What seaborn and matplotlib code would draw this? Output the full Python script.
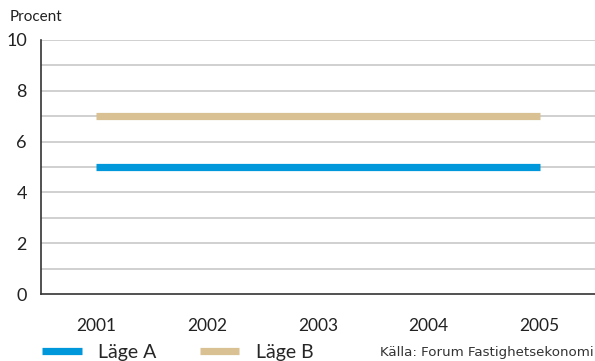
import matplotlib
matplotlib.use("Agg")
import matplotlib.pyplot as plt
import seaborn as sns
import pandas as pd

# Data
years = ["2001", "2002", "2003", "2004", "2005"]
lage_a = [5, 5, 5, 5, 5]
lage_b = [7, 7, 7, 7, 7]
series_names = ["Läge A", "Läge B"]
y_ticks = [0, 2, 4, 6, 8, 10]

df = pd.DataFrame({
    "year": years * 2,
    "value": lage_a + lage_b,
    "series": [series_names[0]] * len(years) + [series_names[1]] * len(years),
})
df["pos"] = df["year"].map({y: i for i, y in enumerate(years)})

sns.set_theme(style="white")
plt.rcParams["font.family"] = ["Lato", "DejaVu Sans"]

fig = plt.figure(figsize=(5.95, 3.61), dpi=100)
ax = fig.add_axes([0.0684, 0.185, 0.9316, 0.705])

palette = {"Läge A": "#0098DA", "Läge B": "#D9C194"}
sns.lineplot(data=df, x="pos", y="value", hue="series", palette=palette,
             linewidth=5.2, ax=ax, legend=False, estimator=None, sort=True)
for ln in ax.get_lines():
    ln.set_solid_capstyle("butt")

ax.set_xlim(-0.5, 4.5)
ax.set_ylim(0, 10)

# horizontal grid at every unit
for v in range(1, 11):
    ax.axhline(v, color="#c4c4c4", linewidth=1.1, zorder=0)

ax.set_yticks(y_ticks)
ax.set_yticklabels([str(t) for t in y_ticks], fontsize=13, color="#222222")
ax.tick_params(axis="y", length=0, pad=10)

ax.set_xticks(range(len(years)))
ax.set_xticklabels(years, fontsize=12.5, color="#222222")
ax.tick_params(axis="x", which="major", length=0, pad=17)
ax.set_xticks([i + 0.5 for i in range(len(years))], minor=True)
ax.tick_params(axis="x", which="minor", direction="in", length=5,
               width=1, color="#555555")

for s in ["top", "right"]:
    ax.spines[s].set_visible(False)
for s in ["left", "bottom"]:
    ax.spines[s].set_color("#333333")
    ax.spines[s].set_linewidth(1.2)

ax.set_xlabel("")
ax.set_ylabel("")

fig.text(0.017, 0.953, "Procent", fontsize=11, color="#222222",
         ha="left", va="center")

# legend
handles = [plt.Line2D([], [], color=palette[n], linewidth=5.2,
                      solid_capstyle="butt") for n in series_names]
fig.legend(handles, series_names, loc="center left",
           bbox_to_anchor=(0.0706, 0.024), ncol=2, frameon=False,
           fontsize=14, handlelength=2.05, handletextpad=0.85,
           columnspacing=2.2, borderpad=0, borderaxespad=0)

fig.text(0.998, 0.024, "Källa: Forum Fastighetsekonomi", fontsize=9.6,
         color="#333333", ha="right", va="center",
         family=["DejaVu Sans"])

fig.savefig("out.png", dpi=100)
